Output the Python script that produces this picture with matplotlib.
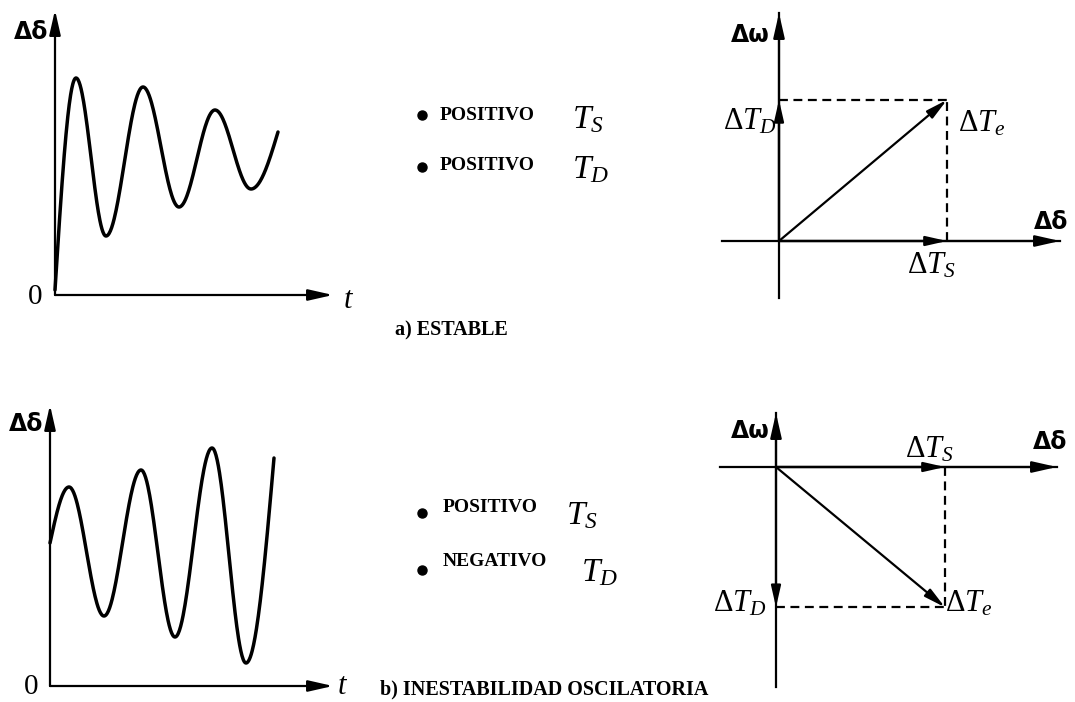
import numpy as np
import matplotlib
matplotlib.use("Agg")
import matplotlib.pyplot as plt
from matplotlib.transforms import Affine2D

plt.rcParams['mathtext.fontset'] = 'custom'
plt.rcParams['mathtext.rm'] = 'Liberation Serif'
plt.rcParams['mathtext.it'] = 'Liberation Serif:italic'

# swing curves: extrema of delta (t, value)
t_estable = [0, 21, 51, 88, 124, 160, 196, 223]
d_estable = [5, 217, 59, 208, 88, 185, 106, 163]
t_inestable = [0, 19, 54, 91, 125, 162, 196, 224]
d_inestable = [143, 199, 70, 216, 49, 238, 23, 228]

# torque components (synchronizing TS, damping TD)
ts_estable, td_estable = 1.0, 0.84
ts_inestable, td_inestable = 1.0, -0.83

labels_a = ["POSITIVO", "POSITIVO"]
labels_b = ["POSITIVO", "NEGATIVO"]
comps = [r"$T_S$", r"$T_D$"]

fig = plt.figure(figsize=(10.75, 7.02), dpi=100)
ax = fig.add_axes([0, 0, 1, 1])
ax.set_xlim(0, 1075)
ax.set_ylim(702, 0)
ax.axis('off')

LW_AX = 1.6
HEAD = '-|>,head_length=0.75,head_width=0.17'


def panel(ox, oy, sx=1.0):
    # local frame: origin at (ox, oy) pixels, y pointing up
    return Affine2D().scale(sx, -sx).translate(ox, oy) + ax.transData


def arrow(tr, p0, p1, lw=LW_AX, ms=20):
    ax.annotate('', xy=p1, xytext=p0, xycoords=tr, textcoords=tr,
                arrowprops=dict(arrowstyle=HEAD, lw=lw, color='k',
                                mutation_scale=ms, shrinkA=0, shrinkB=0))


def swing(ts, ds):
    xs, ys = [], []
    n = len(ts) - 1
    for i in range(n):
        s = np.linspace(0, 1, 60)
        if i == 0:
            shape = np.sin(np.pi / 2 * s)
        elif i == n - 1:
            shape = 1 - np.cos(np.pi / 2 * s)
        else:
            shape = (1 - np.cos(np.pi * s)) / 2
        xs += list(ts[i] + (ts[i + 1] - ts[i]) * s)
        ys += list(ds[i] + (ds[i + 1] - ds[i]) * shape)
    return xs, ys


sym = dict(fontsize=17, family='DejaVu Sans', weight='bold', ha='center', va='center')


def wave_panel(ox, oy, top, right, ts, ds, lab_d, lab_0, lab_t):
    tr = panel(ox, oy)
    arrow(tr, (0, 0), (0, oy - top))
    arrow(tr, (0, 0), (right - ox, 0))
    xs, ys = swing(ts, ds)
    ax.plot(xs, ys, color='k', lw=2.5, transform=tr, solid_capstyle='round')
    ax.text(*lab_d, "Δδ", **sym)
    ax.text(*lab_0, "0", fontsize=21, family='Liberation Serif', ha='center', va='center')
    ax.text(*lab_t, "t", fontsize=22, family='Liberation Serif', style='italic',
            ha='center', va='center')


wave_panel(55, 295, 10, 333, t_estable, d_estable, (31, 32), (35, 297), (348, 301))
wave_panel(50, 686, 405, 333, t_inestable, d_inestable, (26, 424), (31, 687), (342, 687))


def phasor_panel(ox, oy, ts, td, v_lo, v_hi, h_lo, h_hi, sc):
    tr = panel(ox, oy, sc)
    # axes
    ax.plot([0, 0], [v_lo, v_hi], color='k', lw=LW_AX, transform=tr)
    arrow(tr, (0, 0), (0, v_hi))
    ax.plot([h_lo, h_hi], [0, 0], color='k', lw=LW_AX, transform=tr)
    arrow(tr, (0, 0), (h_hi, 0))
    # components and resultant
    arrow(tr, (0, 0), (ts, 0), ms=17)
    arrow(tr, (0, 0), (0, td), ms=17)
    arrow(tr, (0, 0), (ts, td), ms=17)
    ax.plot([0, ts], [td, td], color='k', lw=LW_AX, ls=(0, (4, 2.5)), transform=tr)
    ax.plot([ts, ts], [0, td], color='k', lw=LW_AX, ls=(0, (4, 2.5)), transform=tr)


phasor_panel(779, 241, ts_estable, td_estable, -57 / 168, 228 / 168, -57 / 168, 281 / 168, 168)
phasor_panel(776, 467, ts_inestable, td_inestable, -220 / 169, 54 / 169, -56 / 169, 281 / 169, 169)

ax.text(750, 35, "Δω", **sym)
ax.text(1051, 222, "Δδ", **sym)
ax.text(750, 431, "Δω", **sym)
ax.text(1050, 442, "Δδ", **sym)

tq = dict(fontsize=22, family='Liberation Serif', va='baseline')
ax.text(777, 130, r"Δ$T_D$", ha='right', **tq)
ax.text(958, 132, r"Δ$T_e$", ha='left', **tq)
ax.text(907, 273, r"Δ$T_S$", ha='left', **tq)
ax.text(905, 458, r"Δ$T_S$", ha='left', **tq)
ax.text(767, 612, r"Δ$T_D$", ha='right', **tq)
ax.text(945, 612, r"Δ$T_e$", ha='left', **tq)

# middle lists
bullets_a = [115, 167]
text_a = [115, 166]
comp_a = [(572, 128), (572, 178)]
bullets_b = [513, 570]
text_b = [508, 562]
comp_b = [(566, 524), (581, 581)]

for lbls, by, ty, cp, tx in [(labels_a, bullets_a, text_a, comp_a, 440),
                             (labels_b, bullets_b, text_b, comp_b, 443)]:
    for i in range(2):
        ax.plot(422, by[i], 'o', color='k', ms=6.5)
        ax.text(tx, ty[i], lbls[i], fontsize=14, family='Liberation Serif',
                weight='bold', ha='left', va='center')
        ax.text(cp[i][0], cp[i][1], comps[i], fontsize=24, family='Liberation Serif',
                ha='left', va='baseline')

ax.text(395, 330, "a) ESTABLE", fontsize=14.5, family='Liberation Serif', weight='bold',
        ha='left', va='center')
ax.text(380, 689, "b) INESTABILIDAD OSCILATORIA", fontsize=14.5, family='Liberation Serif',
        weight='bold', ha='left', va='center')

fig.savefig("out.png", dpi=100)
